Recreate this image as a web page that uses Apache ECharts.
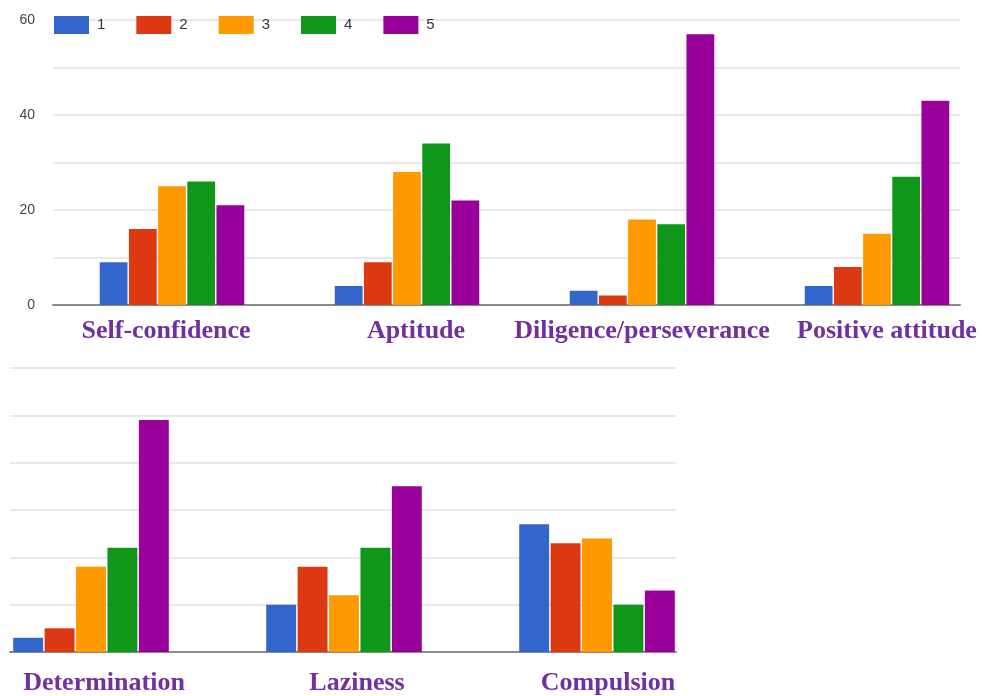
<!DOCTYPE html>
<html>
<head>
<meta charset="utf-8">
<script src="https://cdn.jsdelivr.net/npm/echarts@6/dist/echarts.min.js"></script>
<style>
  html, body { margin: 0; padding: 0; background: #ffffff; }
  #chart { width: 982px; height: 696px; }
</style>
</head>
<body>
<div id="chart"></div>
<script>
// Survey ratings (1 = lowest, 5 = highest) for each attribute
const ratingNames = ['1', '2', '3', '4', '5'];

const topCategories = ['Self-confidence', 'Aptitude', 'Diligence/perseverance', 'Positive attitude'];
const topRating1 = [9, 4, 3, 4];
const topRating2 = [16, 9, 2, 8];
const topRating3 = [25, 28, 18, 15];
const topRating4 = [26, 34, 17, 27];
const topRating5 = [21, 22, 57, 43];

const bottomCategories = ['Determination', 'Laziness', 'Compulsion'];
const bottomRating1 = [3, 10, 27];
const bottomRating2 = [5, 18, 23];
const bottomRating3 = [18, 12, 24];
const bottomRating4 = [22, 22, 10];
const bottomRating5 = [49, 35, 13];

const yTicks = [0, 20, 40, 60];

const palette = ['#3366CC', '#DC3912', '#FF9900', '#109618', '#990099'];
const labelColor = '#7030A0';

// horizontal nudges (px) that centre each category caption
const topNudge = [-6, 9, 0, 10];
const bottomNudge = [13, 13, 11];

function richFor(nudges) {
  const rich = {};
  nudges.forEach((d, i) => {
    rich['c' + i] = {
      fontFamily: '"Liberation Serif", "Times New Roman", serif',
      fontWeight: 'bold',
      fontSize: 26,
      color: labelColor,
      padding: d >= 0 ? [0, 0, 0, 2 * d] : [0, -2 * d, 0, 0]
    };
  });
  return rich;
}

const chart = echarts.init(document.getElementById('chart'), null, { renderer: 'canvas' });

const gridLine = { show: true, lineStyle: { color: '#e8e8e8', width: 2 } };
const baseLine = { show: true, lineStyle: { color: '#8a8a8a', width: 2 } };

const topSets = [topRating1, topRating2, topRating3, topRating4, topRating5];
const bottomSets = [bottomRating1, bottomRating2, bottomRating3, bottomRating4, bottomRating5];

const series = [];
ratingNames.forEach((name, i) => {
  series.push({
    name, type: 'bar', xAxisIndex: 1, yAxisIndex: 1,
    data: topSets[i], itemStyle: { color: palette[i] },
    barGap: '5%', barCategoryGap: '38.5%'
  });
});
ratingNames.forEach((name, i) => {
  series.push({
    name, type: 'bar', xAxisIndex: 3, yAxisIndex: 3,
    data: bottomSets[i], itemStyle: { color: palette[i] },
    barGap: '5%', barCategoryGap: '38.5%'
  });
});

const gridBase = { outerBoundsMode: 'none', containLabel: false };

chart.setOption({
  animation: false,
  backgroundColor: '#ffffff',
  color: palette,
  legend: {
    data: ratingNames,
    left: 54, top: 16,
    padding: 0,
    icon: 'rect',
    itemWidth: 35, itemHeight: 18,
    itemGap: 31,
    textStyle: { fontFamily: '"Liberation Sans", Arial, sans-serif', fontSize: 15, color: '#333', padding: [0, 0, 0, 3] }
  },
  grid: [
    // gridlines + baseline, upper panel
    Object.assign({ left: 53, top: 20, width: 907, height: 285 }, gridBase),
    // bars, upper panel
    Object.assign({ left: 54.5, top: 20, width: 940, height: 285 }, gridBase),
    // gridlines + baseline, lower panel
    Object.assign({ left: 10, top: 368, width: 666, height: 284 }, gridBase),
    // bars, lower panel
    Object.assign({ left: -35.5, top: 368, width: 759, height: 284 }, gridBase)
  ],
  xAxis: [
    { gridIndex: 0, type: 'category', data: topCategories, axisLine: baseLine, axisTick: { show: false }, axisLabel: { show: false } },
    { gridIndex: 1, type: 'category', data: topCategories, axisLine: { show: false }, axisTick: { show: false },
      axisLabel: { margin: 13, interval: 0, formatter: (v, i) => '{c' + i + '|' + v + '}', rich: richFor(topNudge) } },
    { gridIndex: 2, type: 'category', data: bottomCategories, axisLine: baseLine, axisTick: { show: false }, axisLabel: { show: false } },
    { gridIndex: 3, type: 'category', data: bottomCategories, axisLine: { show: false }, axisTick: { show: false },
      axisLabel: { margin: 18, interval: 0, formatter: (v, i) => '{c' + i + '|' + v + '}', rich: richFor(bottomNudge) } }
  ],
  yAxis: [
    { gridIndex: 0, type: 'value', min: 0, max: 60, interval: 10, splitLine: gridLine,
      axisLine: { show: false }, axisTick: { show: false },
      axisLabel: { margin: 18, fontFamily: '"Liberation Sans", Arial, sans-serif', fontSize: 14, color: '#444',
        formatter: v => (yTicks.indexOf(v) >= 0 ? String(v) : '') } },
    { gridIndex: 1, type: 'value', min: 0, max: 60, interval: 10, show: false, splitLine: { show: false } },
    { gridIndex: 2, type: 'value', min: 0, max: 60, interval: 10, splitLine: gridLine,
      axisLine: { show: false }, axisTick: { show: false }, axisLabel: { show: false } },
    { gridIndex: 3, type: 'value', min: 0, max: 60, interval: 10, show: false, splitLine: { show: false } }
  ],
  series
});
</script>
</body>
</html>
